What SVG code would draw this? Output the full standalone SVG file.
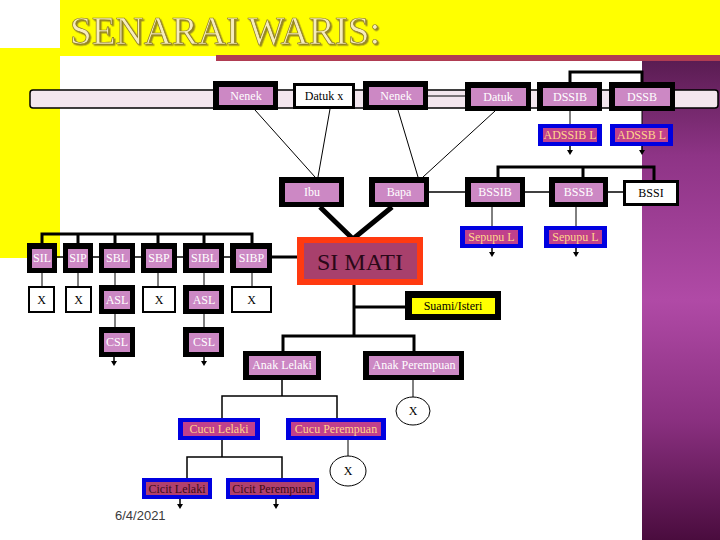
<svg xmlns="http://www.w3.org/2000/svg" width="720" height="540" viewBox="0 0 720 540">
<defs>
<linearGradient id="pg" x1="0" y1="0" x2="0" y2="1">
<stop offset="0" stop-color="#5a1c52"/>
<stop offset="0.2" stop-color="#8e3486"/>
<stop offset="0.5" stop-color="#b04aa6"/>
<stop offset="0.75" stop-color="#8a3080"/>
<stop offset="1" stop-color="#4a0c3e"/>
</linearGradient>
<filter id="sh" x="-5%" y="-20%" width="110%" height="140%">
<feDropShadow dx="1.5" dy="1.5" stdDeviation="0.6" flood-color="#8a7a20" flood-opacity="0.9"/>
</filter>
<path id="ah" d="M-3,0 L3,0 L0,5 Z" fill="#000"/>
<style>
.o{fill:#000}
.pk{fill:#cc88c4}
.bl{fill:#0000e0}
.mg{fill:#c0408c}
.dm{fill:#b0406e}
.wb{fill:#fff;stroke:#000;stroke-width:3}
.xb{fill:#fff;stroke:#000;stroke-width:2}
.t{font-family:"Liberation Serif","Times New Roman",serif;font-size:12px;text-anchor:middle}
.tw{fill:#fff}
.tk{fill:#000}
.ty{fill:#ffd68a}
.td{fill:#3a0a14}
.c1{stroke:#000;stroke-width:1;fill:none}
.c2{stroke:#000;stroke-width:1.5;fill:none}
.c3{stroke:#000;stroke-width:3;fill:none}
.c5{stroke:#000;stroke-width:5;fill:none}
</style>
</defs>

<!-- background -->
<rect x="0" y="0" width="720" height="540" fill="#fff"/>
<rect x="60" y="0" width="660" height="56" fill="#ffff00"/>
<rect x="0" y="48" width="60" height="210" fill="#ffff00"/>
<rect x="642" y="60" width="78" height="480" fill="url(#pg)"/>
<rect x="216" y="55" width="504" height="6" fill="#b03c52"/>
<text x="70" y="44" font-family="Liberation Serif,Times New Roman,serif" font-size="39" fill="#f6ecbc" stroke="#8a7a20" stroke-width="0.7" filter="url(#sh)">SENARAI WARIS:</text>
<text x="115" y="520" font-family="Liberation Sans,Arial,sans-serif" font-size="13" fill="#3a3a3a">6/4/2021</text>

<!-- band -->
<rect x="30" y="90" width="688" height="18" rx="3" fill="#f3e6ee" stroke="#000" stroke-width="1.5"/>

<g id="connectors">
<line class="c1" x1="255" y1="110" x2="315" y2="177"/>
<line class="c1" x1="330" y1="109" x2="318" y2="177"/>
<line class="c1" x1="398" y1="110" x2="418" y2="177"/>
<line class="c1" x1="495" y1="111" x2="423" y2="177"/>
<line class="c1" x1="428" y1="96" x2="465" y2="96"/>
<path class="c3" d="M570,82 V72 H642 V82"/>
<line class="c1" x1="570" y1="111" x2="570" y2="124"/>
<line class="c2" x1="570" y1="146" x2="570" y2="151"/><use href="#ah" x="570" y="150"/>
<line class="c1" x1="642" y1="111" x2="642" y2="124"/>
<line class="c2" x1="642" y1="146" x2="642" y2="151"/><use href="#ah" x="642" y="150"/>
<line class="c2" x1="429" y1="192" x2="465" y2="192"/>
<line class="c2" x1="525" y1="192" x2="549" y2="192"/>
<line class="c2" x1="608" y1="192" x2="623" y2="192"/>
<path class="c3" d="M498,177 V167 H654 V180 M583,167 V177"/>
<line class="c1" x1="492" y1="207" x2="492" y2="226"/>
<line class="c2" x1="492" y1="248" x2="492" y2="253"/><use href="#ah" x="492" y="252"/>
<line class="c1" x1="576" y1="207" x2="576" y2="226"/>
<line class="c2" x1="576" y1="248" x2="576" y2="253"/><use href="#ah" x="576" y="252"/>
<path class="c5" d="M320,207 L353,239 L392,207"/>
<line class="c3" x1="272" y1="257" x2="297" y2="257"/>
<path class="c2" d="M57,257 H63 M93,257 H99 M135,257 H141 M177,257 H183 M224,257 H230"/>
<path class="c3" d="M42,243 V234 H252 V243 M78,234 V243 M115,234 V243 M158,234 V243 M204,234 V243"/>
<path class="c1" d="M42,273 V287 M78,273 V287 M115,273 V285 M158,273 V287 M204,273 V285 M252,273 V287 M115,314 V327 M204,314 V327"/>
<line class="c2" x1="114" y1="357" x2="114" y2="362"/><use href="#ah" x="114" y="361"/>
<line class="c2" x1="204" y1="357" x2="204" y2="362"/><use href="#ah" x="204" y="361"/>
<line class="c3" x1="354" y1="285" x2="354" y2="336"/>
<line class="c3" x1="354" y1="307" x2="405" y2="307"/>
<path class="c3" d="M283,351 V336 H414 V351"/>
<path class="c2" d="M282,380 V396 M222,418 V396 H337 V418"/>
<line class="c1" x1="413" y1="380" x2="413" y2="397"/>
<line class="c1" x1="348" y1="440" x2="348" y2="456"/>
<path class="c2" d="M222,440 V457 M187,478 V457 H282 V478"/>
<line class="c2" x1="180" y1="499" x2="180" y2="505"/><use href="#ah" x="180" y="504"/>
<line class="c2" x1="276" y1="499" x2="276" y2="505"/><use href="#ah" x="276" y="504"/>
</g>

<g id="nenek1"><rect class="o" x="213" y="81" width="65" height="29"/><rect class="pk" x="219" y="87" width="54" height="18"/><text class="t tw" x="246" y="100">Nenek</text></g>
<g id="datukx"><rect class="wb" x="294.5" y="84.5" width="59" height="23"/><text class="t tk" x="324" y="100">Datuk x</text></g>
<g id="nenek2"><rect class="o" x="363" y="81" width="65" height="29"/><rect class="pk" x="369" y="87" width="54" height="18"/><text class="t tw" x="396" y="100">Nenek</text></g>
<g id="datuk"><rect class="o" x="465" y="82" width="66" height="29"/><rect class="pk" x="471" y="88" width="55" height="18"/><text class="t tw" x="498" y="101">Datuk</text></g>
<g id="dssib"><rect class="o" x="537" y="82" width="65" height="29"/><rect class="pk" x="543" y="88" width="54" height="18"/><text class="t tw" x="570" y="101">DSSIB</text></g>
<g id="dssb"><rect class="o" x="609" y="82" width="66" height="29"/><rect class="pk" x="615" y="88" width="55" height="18"/><text class="t tw" x="642" y="101">DSSB</text></g>
<g id="adssibl"><rect class="bl" x="538" y="124" width="64" height="22"/><rect class="mg" x="543" y="128" width="54" height="14"/><text class="t ty" x="570" y="139">ADSSIB L</text></g>
<g id="adssbl"><rect class="bl" x="610" y="124" width="63" height="22"/><rect class="mg" x="615" y="128" width="53" height="14"/><text class="t ty" x="641.5" y="139">ADSSB L</text></g>
<g id="ibu"><rect class="o" x="279" y="177" width="65" height="30"/><rect class="pk" x="285" y="183" width="54" height="19"/><text class="t tw" x="312" y="196">Ibu</text></g>
<g id="bapa"><rect class="o" x="369" y="177" width="60" height="30"/><rect class="pk" x="375" y="183" width="49" height="19"/><text class="t tw" x="399" y="196">Bapa</text></g>
<g id="bssib"><rect class="o" x="465" y="177" width="60" height="30"/><rect class="pk" x="471" y="183" width="49" height="19"/><text class="t tw" x="495" y="196">BSSIB</text></g>
<g id="bssb"><rect class="o" x="549" y="177" width="59" height="30"/><rect class="pk" x="555" y="183" width="48" height="19"/><text class="t tw" x="578.5" y="196">BSSB</text></g>
<g id="bssi"><rect class="wb" x="624.5" y="181.5" width="53" height="23"/><text class="t tk" x="651" y="197">BSSI</text></g>
<g id="sepupu1"><rect class="bl" x="460" y="226" width="63" height="22"/><rect class="mg" x="465" y="230" width="53" height="14"/><text class="t ty" x="491.5" y="241">Sepupu L</text></g>
<g id="sepupu2"><rect class="bl" x="544" y="226" width="63" height="22"/><rect class="mg" x="549" y="230" width="53" height="14"/><text class="t ty" x="575.5" y="241">Sepupu L</text></g>
<g id="simati"><rect x="297" y="237" width="126" height="48" fill="#ff3a10"/><rect x="304" y="243" width="113" height="36" fill="#a8406c"/><text class="t" x="360" y="270" style="font-size:24px;fill:#2a0818">SI MATI</text></g>
<g id="sil"><rect class="o" x="27" y="243" width="30" height="30"/><rect class="pk" x="32" y="249" width="20" height="19"/><text class="t tw" x="42" y="262">SIL</text></g>
<g id="sip"><rect class="o" x="63" y="243" width="30" height="30"/><rect class="pk" x="68" y="249" width="20" height="19"/><text class="t tw" x="78" y="262">SIP</text></g>
<g id="sbl"><rect class="o" x="99" y="243" width="36" height="30"/><rect class="pk" x="104" y="249" width="26" height="19"/><text class="t tw" x="117" y="262">SBL</text></g>
<g id="sbp"><rect class="o" x="141" y="243" width="36" height="30"/><rect class="pk" x="146" y="249" width="26" height="19"/><text class="t tw" x="159" y="262">SBP</text></g>
<g id="sibl"><rect class="o" x="183" y="243" width="41" height="30"/><rect class="pk" x="189" y="249" width="30" height="19"/><text class="t tw" x="204" y="262">SIBL</text></g>
<g id="sibp"><rect class="o" x="230" y="243" width="42" height="30"/><rect class="pk" x="236" y="249" width="31" height="19"/><text class="t tw" x="251.5" y="262">SIBP</text></g>
<g id="x1"><rect class="xb" x="29" y="287" width="25" height="25"/><text class="t tk" x="41.5" y="304">X</text></g>
<g id="x2"><rect class="xb" x="66" y="287" width="25" height="25"/><text class="t tk" x="78.5" y="304">X</text></g>
<g id="asl1"><rect class="o" x="99" y="285" width="36" height="29"/><rect class="pk" x="104" y="291" width="26" height="18"/><text class="t tw" x="117" y="304">ASL</text></g>
<g id="x3"><rect class="xb" x="143" y="287" width="32" height="25"/><text class="t tk" x="159" y="304">X</text></g>
<g id="asl2"><rect class="o" x="183" y="285" width="41" height="29"/><rect class="pk" x="189" y="291" width="30" height="18"/><text class="t tw" x="204" y="304">ASL</text></g>
<g id="x4"><rect class="xb" x="232" y="287" width="39" height="25"/><text class="t tk" x="251.5" y="304">X</text></g>
<g id="csl1"><rect class="o" x="99" y="327" width="36" height="30"/><rect class="pk" x="104" y="333" width="26" height="19"/><text class="t tw" x="117" y="346">CSL</text></g>
<g id="csl2"><rect class="o" x="183" y="327" width="41" height="30"/><rect class="pk" x="189" y="333" width="30" height="19"/><text class="t tw" x="204" y="346">CSL</text></g>
<g id="suami"><rect class="o" x="405" y="291" width="96" height="29"/><rect x="412" y="298" width="83" height="16" fill="#ffff00"/><text class="t tk" x="453" y="310">Suami/Isteri</text></g>
<g id="anaklelaki"><rect class="o" x="243" y="351" width="78" height="29"/><rect class="pk" x="249" y="356" width="67" height="19"/><text class="t tw" x="282" y="369">Anak Lelaki</text></g>
<g id="anakperempuan"><rect class="o" x="363" y="351" width="101" height="29"/><rect class="pk" x="369" y="356" width="90" height="19"/><text class="t tw" x="414" y="369">Anak Perempuan</text></g>
<g id="xc1"><ellipse cx="413" cy="411" rx="17" ry="14" fill="#fff" stroke="#000" stroke-width="1"/><text class="t tk" x="413" y="415">X</text></g>
<g id="cuculelaki"><rect class="bl" x="178" y="418" width="82" height="22"/><rect class="mg" x="183" y="422" width="72" height="14"/><text class="t ty" x="219" y="433">Cucu Lelaki</text></g>
<g id="cucuperempuan"><rect class="bl" x="286" y="418" width="100" height="22"/><rect class="mg" x="291" y="422" width="90" height="14"/><text class="t ty" x="336" y="433">Cucu Perempuan</text></g>
<g id="xc2"><ellipse cx="348" cy="471" rx="18" ry="15" fill="#fff" stroke="#000" stroke-width="1"/><text class="t tk" x="348" y="475">X</text></g>
<g id="cicitlelaki"><rect class="bl" x="142" y="478" width="70" height="21"/><rect class="dm" x="146" y="482" width="62" height="13"/><text class="t td" x="177" y="493">Cicit Lelaki</text></g>
<g id="cicitperempuan"><rect class="bl" x="226" y="478" width="93" height="21"/><rect class="dm" x="230" y="482" width="85" height="13"/><text class="t td" x="272.5" y="493">Cicit Perempuan</text></g>
</svg>
